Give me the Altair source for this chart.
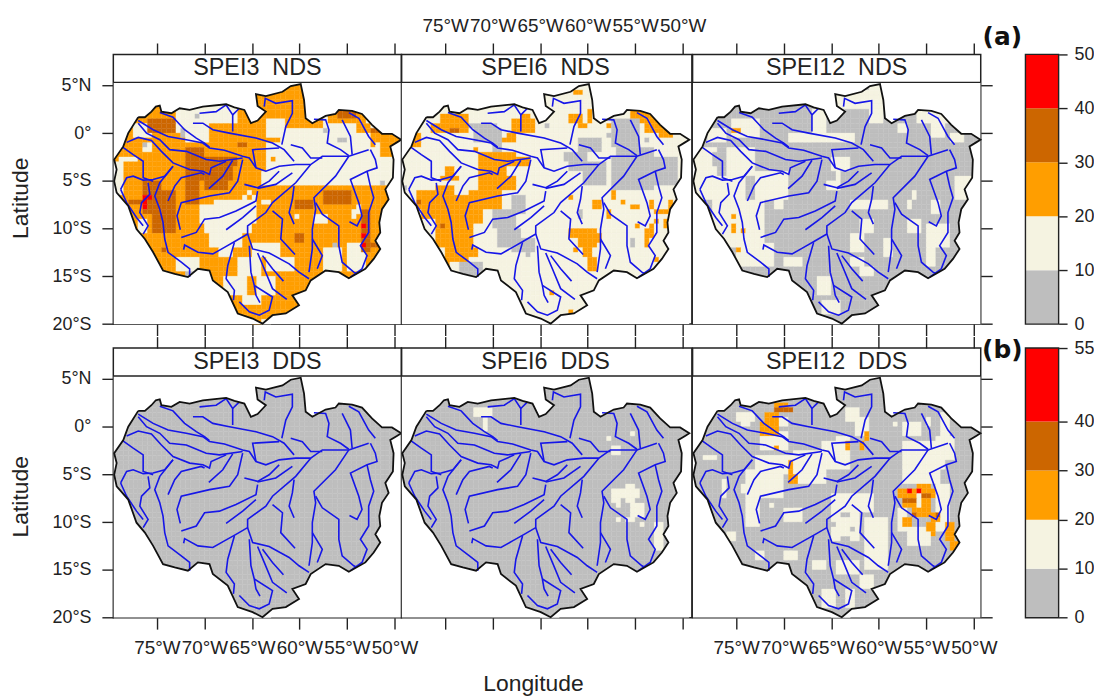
import altair as alt
import pandas as pd

GREY, CREAM, ORANGE, DARK, RED = 0, 1, 2, 3, 4
COLORS = ["#BEBEBE", "#F5F3E1", "#FF9E00", "#CC6600", "#FF0000"]
INK = "#222222"
FONT = "Liberation Sans"

OUTLINE = [(-76.97,1.66),(-76.27,1.66),(-75.58,2.25),(-75.12,2.77),(-74.70,2.88),(-74.53,2.25),(-73.48,2.08),(-72.61,2.60),
 (-71.56,2.43),(-70.17,2.77),(-67.72,3.02),(-66.85,2.70),(-65.80,2.43),(-65.11,1.04),(-64.41,1.32),(-63.54,2.25),(-64.41,2.84),
 (-64.58,4.09),(-63.54,3.88),(-61.79,4.33),(-60.92,4.92),(-59.87,5.13),(-59.52,3.47),(-59.35,1.56),(-58.65,1.04),(-57.25,1.80),
 (-56.21,2.01),(-55.86,2.43),(-54.46,2.32),(-53.42,2.01),(-52.37,0.87),(-51.32,-0.07),(-50.27,-0.07),(-49.30,-0.69),(-49.75,-0.97),
 (-50.45,-1.39),(-50.10,-2.77),(-50.17,-4.68),(-50.97,-5.89),(-50.62,-6.93),(-51.32,-7.97),(-51.60,-9.36),(-51.50,-10.40),
 (-52.02,-11.27),(-51.50,-12.13),(-52.19,-13.17),(-53.07,-14.21),(-54.81,-15.19),(-55.86,-14.56),(-57.25,-14.39),(-58.82,-15.43),
 (-59.35,-16.47),(-60.75,-16.99),(-60.05,-18.03),(-61.44,-18.89),(-62.84,-19.07),(-63.89,-19.95),(-64.93,-19.42),(-66.50,-18.89),
 (-67.55,-16.64),(-69.12,-15.43),(-69.47,-14.39),(-70.69,-14.21),(-71.74,-15.08),(-73.13,-14.73),(-74.36,-14.39),(-75.40,-12.48),
 (-76.27,-11.09),(-77.15,-10.05),(-78.02,-7.63),(-79.24,-6.24),(-79.50,-5.03),(-79.24,-3.81),(-79.50,-2.77),(-78.54,-1.39),(-78.02,0.0),(-76.97,1.66)]

RIVERS = [
 [(-74.70,2.15),(-73.31,1.66),(-72.09,.35),(-70.86,-.52),(-69.99,-1.04),(-69.47,-1.46)],
 [(-76.97,1.32),(-75.40,.35),(-73.83,-.35),(-71.91,-.69),(-70.17,-1.04),(-69.47,-1.56),(-67.90,-1.80),(-65.98,-2.43),(-65.28,-2.60),(-64.58,-3.64),(-63.54,-3.99),(-62.14,-3.47),(-60.40,-3.29),(-58.82,-3.29),(-57.60,-2.43),(-54.81,-2.43),(-52.72,-1.73)],
 [(-76.97,1.04),(-76.10,0),(-74.70,-.69),(-73.66,-1.73),(-71.91,-1.91),(-69.82,-2.77),(-68.42,-2.95),(-65.98,-2.60)],
 [(-78.19,-.97),(-76.97,-.45),(-75.58,-.76),(-74.53,-1.91),(-73.31,-3.12),(-71.56,-3.81),(-70.17,-3.99),(-69.47,-4.33),(-69.30,-3.64),(-67.72,-2.95)],
 [(-78.61,-1.46),(-77.50,-2.25),(-76.45,-2.95),(-76.45,-4.68),(-75.40,-5.03)],
 [(-78.82,-5.89),(-78.19,-4.68),(-77.50,-4.51),(-76.45,-4.92),(-75.40,-4.85),(-74.18,-4.51),(-73.31,-3.47)],
 [(-78.82,-5.89),(-78.19,-7.28),(-77.15,-8.84),(-76.45,-9.71)],
 [(-75.93,-5.20),(-75.75,-6.41),(-76.62,-7.28),(-76.80,-8.32),(-75.93,-9.71),(-76.45,-10.57)],
 [(-73.31,-3.47),(-74.70,-5.20),(-75.23,-6.59),(-74.70,-7.97),(-74.36,-9.36),(-74.18,-11.09),(-73.83,-12.48),(-72.44,-13.52),(-71.56,-14.21),(-71.56,-15.08)],
 [(-73.83,-7.11),(-73.13,-5.55),(-72.44,-4.68),(-70.34,-4.16),(-69.99,-4.33)],
 [(-72.54,-10.12),(-72.89,-8.67),(-72.44,-7.28),(-69.47,-6.59),(-67.37,-6.24),(-66.50,-5.03),(-65.98,-2.77)],
 [(-69.54,-5.82),(-68.07,-4.51),(-67.03,-2.84)],
 [(-65.80,-5.37),(-64.41,-5.72),(-63.19,-5.03),(-62.14,-3.99)],
 [(-64.41,-5.79),(-62.49,-5.37),(-60.75,-4.16)],
 [(-58.82,-3.29),(-60.40,-5.20),(-62.84,-7.28),(-63.54,-8.32),(-65.46,-9.71),(-65.46,-10.57),(-66.68,-11.27),(-67.90,-11.96),(-69.12,-12.65),(-70.69,-12.48),(-72.09,-11.72),(-72.19,-12.2)],
 [(-72.44,-10.92),(-70.86,-10.40),(-69.99,-9.01),(-68.42,-8.84),(-66.68,-8.15),(-64.58,-7.11),(-64.41,-6.07)],
 [(-67.72,-10.12),(-65.98,-8.84),(-64.58,-7.63)],
 [(-63.71,2.77),(-63.60,3.64),(-62.49,3.12),(-60.75,3.40),(-60.75,2.08),(-61.44,.69),(-61.86,-1.21)],
 [(-71.21,1.04),(-70.17,1.04),(-69.12,.35),(-67.37,0),(-64.58,-.52),(-62.84,-1.04),(-61.62,-1.73),(-60.57,-2.95)],
 [(-70.52,2.08),(-68.77,2.25),(-67.72,2.95),(-67.03,1.91),(-67.03,.17)],
 [(-67.03,1.91),(-66.33,2.60)],
 [(-62.14,-1.56),(-64.93,-1.73),(-64.58,-3.64)],
 [(-60.92,-1.21),(-59.70,-1.56),(-58.82,-2.60),(-57.60,-2.60)],
 [(-58.48,1.46),(-57.25,1.39),(-56.90,.35),(-57.08,-1.04),(-55.68,-1.73),(-54.81,-2.36)],
 [(-55.51,1.39),(-54.64,-.35),(-54.46,-2.25)],
 [(-54.81,2.15),(-53.76,1.56),(-52.72,-.35),(-52.02,-1.21)],
 [(-52.54,-1.73),(-52.02,-2.77),(-51.84,-3.64),(-52.89,-3.99),(-54.64,-4.85),(-53.76,-7.28),(-53.42,-8.67),(-53.94,-9.71),(-54.74,-9.29)],
 [(-52.89,-3.99),(-52.54,-5.55),(-52.19,-6.76),(-52.72,-8.32),(-52.72,-10.40),(-53.59,-11.79),(-52.89,-12.83),(-53.42,-14.21),(-54.64,-15.08)],
 [(-54.81,-2.43),(-56.21,-4.51),(-58.48,-6.76),(-58.30,-7.97),(-58.65,-10.05),(-58.65,-12.13),(-59.0,-14.56)],
 [(-58.30,-7.28),(-57.60,-8.49),(-55.86,-9.71),(-55.86,-11.79),(-55.51,-13.52),(-54.29,-14.56),(-53.94,-14.73)],
 [(-58.65,-11.09),(-57.60,-12.83),(-58.13,-14.21)],
 [(-60.57,-5.55),(-60.75,-6.93),(-61.09,-8.32),(-60.57,-9.53)],
 [(-62.84,-8.15),(-61.79,-9.01),(-61.97,-11.09),(-60.47,-12.72)],
 [(-65.46,-10.57),(-64.93,-12.13),(-63.19,-12.55),(-61.09,-13.69),(-60.05,-14.56),(-59.0,-15.25)],
 [(-66.85,-11.44),(-67.55,-13.87),(-67.72,-15.25),(-66.85,-16.47),(-66.95,-17.5)],
 [(-65.28,-11.79),(-65.11,-14.56),(-64.76,-15.95),(-64.58,-16.99),(-64.16,-17.75)],
 [(-64.41,-12.55),(-63.71,-14.21),(-62.84,-16.29),(-61.34,-17.40)],
 [(-63.89,-12.83),(-62.84,-14.21),(-61.69,-15.50)],
 [(-66.33,-17.68),(-65.28,-18.72),(-64.23,-19.07),(-63.19,-18.55),(-62.84,-17.16),(-64.76,-15.95)],
]

# (west, east, north, south, class): regions, later entries win
P1 = [
 (-73,-66.5,3,1,1),(-72,-69.5,1,-1,1),(-73,-72,1,0,1),(-77.5,-76,1,-.5,1),(-76.5,-75.5,.5,-.5,1),(-76.5,-75.5,-1,-2,1),(-76.5,-76,-1,-1.5,0),
 (-79,-77,-2.5,-3,1),(-79.5,-78.5,-3,-6.5,1),(-63.5,-61.5,1.5,-.5,1),(-62,-57.5,.5,-5.5,1),(-57.5,-52,2,-5.5,1),(-52,-49.5,-2.5,-5.5,1),
 (-52,-51.5,-1,-2.5,1),(-63.5,-62,-1,-5.5,1),(-64,-63.5,-4,-5.5,1),(-63,-62.5,-2.5,-3,2),
 (-57,-53,2.5,1,2),(-56,-54,2.5,1.5,3),(-54,-52.5,1,0,2),(-52.5,-52,.5,-1.5,2),(-52.5,-51.5,.5,0,3),
 (-57.5,-57,.5,0,0),(-56,-55,-.5,-1,0),(-51.5,-51,-5,-5.5,0),
 (-69,-64.5,-7,-9.5,1),(-70.5,-65,-7.5,-9.5,1),(-70,-65,-9.5,-10.5,1),(-69.5,-66,-10.5,-12,1),(-68.5,-67,-12,-13,1),
 (-65.5,-65,-6,-6.5,1),(-66,-65.5,-6.5,-7,1),(-65,-64.5,-6.5,-7,1),(-64,-63,-7,-7.5,1),
 (-65,-62,-11.5,-13,1),(-66.5,-64,-13,-15,1),(-63.5,-60.5,-13,-14.5,1),(-68,-65.5,-15,-17,1),(-64.5,-62.5,-15,-17,1),(-66,-64,-17,-18,1),(-64,-63,-19.5,-20,1),
 (-58.5,-57,-8.5,-9.5,1),(-57.5,-55.5,-12,-14.5,1),(-55,-53,-11.5,-14.5,1),(-54,-53.5,-7.5,-8.5,1),(-54.5,-54,-8,-9,1),(-60.5,-60,-8.5,-9,1),(-57.5,-57,-9,-9.5,1),
 (-56.5,-56,-11.5,-12,0),(-73,-70.5,-13,-14.5,1),(-72,-71,-14.5,-15,0),(-71,-70.5,2,1.5,0),(-72.5,-72,.5,-.5,0),(-77,-76,-9,-10.5,1),
 (-74.5,-74,-12,-12.5,3),(-76,-73,1.5,0,3),(-72,-66.5,-2.5,-3.5,3),(-72,-70,-1.5,-2.5,3),(-72,-67,-3.5,-5,3),(-72,-70.5,-5,-7.5,3),(-70,-67.5,-5,-6,3),(-66.5,-65.5,-1,-1.5,3),
 (-76.5,-74.5,-5,-8.5,3),(-75.5,-73.5,-8.5,-10.5,3),(-74.5,-73,-6,-10.5,3),(-78,-76.5,-7,-7.5,3),
 (-60.5,-58.5,-7,-8,3),(-57.5,-54.5,-6,-7.5,3),(-60.5,-59.5,-10.5,-11.5,3),(-53.5,-52.5,-8,-12.5,3),(-53.5,-51.5,-11.5,-12,3),
 (-76.5,-76,-6.5,-8,4),(-76,-75.5,-6.5,-7,4),(-53.5,-53,-9.5,-10,4),(-53.5,-53,-10.5,-11,4),(-53.5,-53,-11.5,-12,4),
]
P2 = [
 (-75.5,-72.5,2,0,2),(-76.5,-75.5,1,0,2),(-74.5,-73.5,.5,0,3),(-78.5,-77.5,0,-1.5,2),(-71.5,-67.5,-2,-3,2),(-71.5,-68.5,-3,-4.5,2),(-68.5,-66,-2.5,-3.5,2),
 (-71.5,-67.5,-4.5,-6,2),(-72.5,-69,-6,-8,2),(-72.5,-71,-8,-9.5,2),(-72,-71.5,-1.5,-2,2),(-69,-68.5,-.5,-1,2),(-68.5,-67.5,0,-1,2),(-68,-65.5,1.5,0,2),(-67,-66,2,1,2),
 (-75,-74,-3.5,-4.5,2),(-75.5,-73.5,-4.5,-5,2),(-78,-76,-6,-8,2),(-77.5,-75.5,-8,-9,2),(-76,-74,-5.5,-12,2),(-74.5,-72,-6.5,-10.5,2),(-74,-71,-8,-9.5,2),(-74,-72,-10.5,-12,2),
 (-75,-72.5,-12,-13.5,2),(-73,-71.5,-12,-13,2),(-75.5,-74.5,-13,-14,2),(-75.5,-75,-9.5,-10,3),(-78,-77.5,-7,-7.5,3),
 (-62,-60.5,2,1,2),(-60,-59.5,2.5,1,2),(-61,-60,1,.5,2),(-58,-57.5,1,.5,2),(-61.5,-60.5,4.5,4,2),
 (-55.5,-54,2.5,1,2),(-54.5,-53,2.5,1.5,2),(-54,-52,1.5,0,2),(-52.5,-51,.5,-.5,2),
 (-59.5,-58.5,-7,-8,2),(-57.5,-57,-6,-7,2),(-62,-61.5,-6.5,-7,2),(-58,-57.5,-8,-9,2),(-56.5,-56,-7,-7.5,2),(-55.5,-54.5,-7.5,-8,2),(-55,-54.5,-9.5,-10,2),(-53.5,-53,-7,-8,2),
 (-53,-51,-8,-8.5,2),(-51.5,-51,-7,-8,2),(-52,-51,-9,-10,2),(-53,-52.5,-9,-9.5,2),(-54,-53.5,-10,-12,2),(-53.5,-53,-9.5,-11,2),(-53,-52.5,-13,-13.5,2),
 (-61,-59,-10,-12,2),(-60.5,-59.5,-12,-13,2),(-60,-59,-13,-14.5,2),(-62,-61,-10,-11,2),(-59,-58.5,-10.5,-11.5,2),(-61.5,-61,-12,-12.5,2),(-64,-63.5,-16.5,-17,2),(-62,-61.5,-18.5,-19,2),
 (-72,-69.5,1,-1,0),(-70,-69,.5,-2,0),(-72.5,-71.5,1,.5,0),(-62.5,-60,-2,-3,0),(-61,-58.5,-.5,-2,0),(-60.5,-58,-3,-5.5,0),(-62,-60,-3,-4,0),
 (-57.5,-54.5,1.5,-1.5,0),(-57.5,-53,-2.5,-6,0),(-53,-50.5,-2.5,-5.5,0),(-57,-53,-1.5,-2.5,0),(-54,-53.5,-.5,-1,0),(-64.5,-64,1,.5,0),(-58,-57.5,0,-.5,0),
 (-70,-67.5,-8,-10,0),(-68,-66.5,-6.5,-8.5,0),(-69.5,-67,-10,-12,0),(-68,-65.5,-11,-12.5,0),(-66.5,-66,-12,-13,0),(-61,-60.5,-8,-9,0),(-55.5,-55,-11,-12,0),(-73.5,-71,-13.5,-15,0),(-79.5,-79,-5.5,-6,0),
]
P3 = [
 (-78,-76,.5,-1,1),(-79.5,-77,-1.5,-7,1),(-76,-73,-1.5,-4.5,1),(-77.5,-74,-4.5,-12,1),(-74,-72,-7,-11.5,1),(-75,-71,-11.5,-14,1),(-73,-69.5,-4,-7,1),
 (-77.5,-76.5,-2,-3.5,0),(-77.5,-77,-3,-3.5,0),(-75.5,-72.5,1.5,-.5,1),
 (-75.5,-74.5,.5,0,2),(-75.5,-75,-8.5,-9,2),(-75.5,-75,-9.5,-10.5,2),(-74.5,-74,-10,-10.5,2),(-75,-74.5,-12,-12.5,2),
 (-69.5,-62.5,0,-1,1),(-65,-63,-2.5,-4,1),(-67,-65.5,2.5,0,1),(-64.5,-60,4.5,2.5,1),(-61,-59.5,5,1,1),(-58,-57,1,0,1),
 (-56,-52.5,2.5,1,1),(-54.5,-53,1,-.5,1),(-52.5,-51,0,-1,1),(-52,-50,-4.5,-7,1),(-71,-70,-7,-8,1),(-65.5,-64,-5,-6,1),(-64.5,-64,-4,-5,1),
 (-63,-59,-7,-8,1),(-62,-60.5,-9,-10.5,1),(-63,-61.5,-10.5,-12.5,1),(-59.5,-58.5,-11,-13,1),(-57,-55.5,-9,-10.5,1),(-55,-52.5,-9.5,-12,1),(-54.5,-53.5,-7,-8.5,1),
 (-55,-54,-10.5,-14,1),(-56.5,-56,-6,-7,1),(-57,-56.5,-7,-8,1),(-66.5,-65,-15,-17,1),(-66,-64,-17.5,-19,1),(-62,-60.5,-14,-15,1),(-63,-61.5,-13,-14,1),(-70,-68,-13,-14,1),
]
P4 = []
P5 = [
 (-72,-70,2,1,1),(-71,-70.5,1,-.5,1),(-55.5,-55,-.5,-1,1),(-58,-57.5,-1,-1.5,1),(-57.5,-56.5,-2,-3,1),
 (-57.5,-54.5,-6.5,-8,1),(-56,-55,-6,-6.5,1),(-57,-56,-8,-8.5,1),(-55.5,-54,-8,-9.5,1),(-55,-54.5,-7.5,-8,0),(-56.5,-56,-7.5,-8.5,0),
 (-57,-56.5,-9.5,-10,1),(-56,-55,-9.5,-10,1),(-54.5,-54,-10,-10.5,1),(-53,-52,-10,-13,1),
]
P6 = [
 (-57.5,-53.5,-1.5,-6,1),(-54,-52,-1,-3.5,1),(-54,-53,-3.5,-4.5,1),(-57.5,-55.5,.5,-1,1),(-55,-54.5,1,0,1),(-53.5,-52.5,1.5,-1,1),
 (-54,-52.5,-6,-11,1),(-61.5,-59,-9.5,-15,1),(-63,-60.5,-7,-9,1),(-65,-63,-7,-8,1),(-65,-62,-8,-12,1),(-58,-57,-8.5,-11,1),(-57,-54.5,-10.5,-12.5,1),
 (-74,-70,-4.5,-7.5,1),(-73,-68,-3,-5,1),(-69,-65.5,-2.5,-5,1),(-66,-63,-1.5,-4.5,1),(-69.5,-65.5,-5,-6,1),(-70,-68,-8.5,-10,1),(-71.5,-71,-8,-8.5,1),
 (-74,-72.5,-7,-10.5,1),(-76,-75,-11,-12,1),(-75,-73,1.5,.5,1),(-74.5,-73.5,1,0,1),(-72.5,-69.5,-.5,-2.5,1),(-70.5,-69.5,1,0,1),(-78.5,-77,-3,-3.5,1),(-76.5,-76,-5.5,-7.5,1),(-74.5,-73.5,-6,-7,1),
 (-63.5,-62,2,.5,1),(-62.5,-61,1,-1,1),(-64.5,-63,-1,-2.5,1),(-58.5,-58,.5,0,1),(-70,-68.5,-13,-14,1),(-67,-65.5,-14,-15,1),(-73,-72,-13,-14,1),(-64.5,-62,-14,-15.5,1),(-62,-60.5,-15.5,-17,1),(-66,-64.5,-17,-19,1),(-63.5,-62.5,-17,-19,1),
 (-64,-63,-9,-9.5,0),(-65,-64.5,-10,-10.5,0),(-63,-62.5,-10.5,-11,0),(-64,-63,-11.5,-12,0),
 (-72,-70.5,1.5,.5,2),(-72.5,-70.5,.5,-1,2),(-71,-69,2,1.5,3),(-71,-69.5,2.5,2,2),(-71,-70.5,-2,-2.5,2),(-69.5,-69,-3.5,-5,2),(-69.5,-68.5,-5,-6,2),
 (-63.5,-63,-1.5,-2.5,2),(-62,-61.5,-1.5,-2.5,2),(-61.5,-61,-.5,-1.5,2),
 (-58,-54,-6.5,-7.5,2),(-56,-54.5,-6,-6.5,2),(-57.5,-54.5,-7.5,-8.5,2),(-56.5,-54.5,-8.5,-9,2),(-56,-54,-9,-9.5,2),
 (-57.5,-56,-7.5,-8,3),(-55.5,-54.5,-7,-7.5,3),(-56.5,-56,-9,-9.5,3),(-57,-56.5,-6.5,-7,4),(-56,-55.5,-7,-8.5,1),(-56,-55.5,-6.5,-7,4),
 (-57.5,-56.5,-9.5,-10.5,2),(-54.5,-54,-10,-11.5,2),(-55,-54,-10,-11,2),(-53,-52,-10,-12,2),(-52.5,-51.5,-12,-13,2),(-54.5,-53.5,-9,-10,2),(-54,-53.5,-9,-9.5,3),
]

PANELS = [("SPEI3\u00a0\u00a0NDS", ORANGE, P1), ("SPEI6\u00a0\u00a0NDS", CREAM, P2), ("SPEI12\u00a0\u00a0NDS", GREY, P3),
          ("SPEI3\u00a0\u00a0DDS", GREY, P4), ("SPEI6\u00a0\u00a0DDS", GREY, P5), ("SPEI12\u00a0\u00a0DDS", GREY, P6)]

LON_TICKS = [-75, -70, -65, -60, -55, -50]
LAT_TICKS = [5, 0, -5, -10, -15, -20]
LON_DOMAIN = [-79.59, -49.27]
LON_DOMAIN_MID = [-79.59, -49.03]
LAT_DOMAIN = [-20, 8.24]
STRIP_LAT = 5.31
W, W_MID, H = 290, 292.3, 271.4

BAR_A = [(0,10,GREY),(10,20,CREAM),(20,30,ORANGE),(30,40,DARK),(40,50,RED)]
BAR_B = [(0,10,GREY),(10,20,CREAM),(20,30,ORANGE),(30,40,DARK),(40,55,RED)]
TICKS_A = [0,10,20,30,40,50]
TICKS_B = [0,10,20,30,40,55]


def inside(px, py):
    hit = False
    for (x1, y1), (x2, y2) in zip(OUTLINE, OUTLINE[1:]):
        if (y1 > py) != (y2 > py) and px < x1 + (py - y1) / (y2 - y1) * (x2 - x1):
            hit = not hit
    return hit


def cells(base, patches):
    rows = []
    for i in range(52):
        north = 5.5 - 0.5 * i
        south = north - 0.5
        for j in range(60):
            west = -79.5 + 0.5 * j
            east = west + 0.5
            probes = [(west, north), (east, north), (west, south), (east, south), (west + .25, south + .25)]
            if not any(inside(a, b) for a, b in probes):
                continue
            c = base
            for w, e, n, s, k in patches:
                if w <= west and east <= e and s <= south and north <= n:
                    c = k
            rows.append({"w": west, "e": east, "n": min(north, 5.29), "s": max(south, -20), "c": COLORS[c]})
    return pd.DataFrame(rows)


corners = [(-79.55, 5.29), (-79.55, -19.98), (-49.3, -19.98), (-49.3, 5.29), (-79.55, 5.29)]
mask_pts = corners + OUTLINE + [corners[0]]
mask_df = pd.DataFrame([{"lon": a, "lat": b, "i": i} for i, (a, b) in enumerate(mask_pts)])
outline_df = pd.DataFrame([{"lon": a, "lat": b, "i": i} for i, (a, b) in enumerate(OUTLINE)])
river_df = pd.DataFrame([{"lon": a, "lat": b, "i": i, "r": r} for r, pts in enumerate(RIVERS) for i, (a, b) in enumerate(pts)])

YS = alt.Scale(domain=LAT_DOMAIN, nice=False, zero=False)
LON_LABEL = "abs(datum.value)+'°W'"
LAT_LABEL = "datum.value==0?'0°':abs(datum.value)+(datum.value>0?'°N':'°S')"


def x_axis(orient, labels):
    return alt.Axis(orient=orient, values=LON_TICKS, labels=labels, labelExpr=LON_LABEL, labelFont=FONT, labelFontSize=19,
                    labelColor=INK, labelPadding=10 if orient == "bottom" else 8, labelOverlap=False, labelFlush=False, labelBound=False, tickSize=11.5,
                    tickColor=INK, tickWidth=1.4, grid=False, domain=False, title=None)


def y_axis(orient):
    return alt.Axis(orient=orient, values=LAT_TICKS, labels=orient == "left", labelExpr=LAT_LABEL, labelFont=FONT, labelFontSize=18,
                    labelColor=INK, labelPadding=11, labelOverlap=False, labelFlush=False, labelBound=False, tickSize=11.5,
                    tickColor=INK, tickWidth=1.4, grid=False, domain=False, title=None)


def panel(idx):
    name, base, patches = PANELS[idx]
    col, row = idx % 3, idx // 3
    XS = alt.Scale(domain=LON_DOMAIN_MID if col == 1 else LON_DOMAIN, nice=False, zero=False)
    bottom = x_axis("bottom", row == 1 and col != 1)
    top = x_axis("top", row == 0 and col == 1)
    yax = y_axis("left") if col == 0 else (y_axis("right") if col == 2 else None)
    X = alt.X("lon:Q", scale=XS, axis=None)
    Y = alt.Y("lat:Q", scale=YS, axis=None)
    cell_layer = alt.Chart(cells(base, patches)).mark_rect(strokeWidth=0.35).encode(
        x=alt.X("w:Q", scale=XS, axis=None), x2="e:Q",
        y=alt.Y("n:Q", scale=YS, axis=None), y2="s:Q",
        color=alt.Color("c:N", scale=None), stroke=alt.Stroke("c:N", scale=None))
    mask = alt.Chart(mask_df).mark_line(fill="white", strokeWidth=0, interpolate="linear").encode(x=X, y=Y, order="i:Q")
    rivers = alt.Chart(river_df).mark_line(color="#1616E8", strokeWidth=1.6).encode(
        x=alt.X("lon:Q", scale=XS, axis=bottom), y=Y, detail="r:N", order="i:Q")
    outline = alt.Chart(outline_df).mark_line(color="#111111", strokeWidth=1.8).encode(
        x=alt.X("lon:Q", scale=XS, axis=top), y=alt.Y("lat:Q", scale=YS, axis=yax), order="i:Q")
    strip_rule = alt.Chart(pd.DataFrame({"lat": [STRIP_LAT]})).mark_rule(color=INK, strokeWidth=1.4).encode(y=Y)
    label = alt.Chart(pd.DataFrame({"lon": [-64.43], "lat": [6.77], "t": [name]})).mark_text(
        font=FONT, fontSize=23.5, color=INK, baseline="middle", align="center").encode(x=X, y=Y, text="t:N")
    layers = [cell_layer, mask, rivers, outline, strip_rule, label]
    if col == 0:
        lat_pos = -6.82 if row == 0 else -7.34
        layers.append(alt.Chart(pd.DataFrame({"lon": [-89.31], "lat": [lat_pos], "t": ["Latitude"]})).mark_text(
            font=FONT, fontSize=23, color=INK, baseline="middle", align="center", angle=270).encode(x=X, y=Y, text="t:N"))
    if row == 1 and col == 1:
        layers.append(alt.Chart(pd.DataFrame({"lon": [-65.7], "lat": [-27.0], "t": ["Longitude"]})).mark_text(
            font=FONT, fontSize=23, color=INK, baseline="middle", align="center").encode(x=X, y=Y, text="t:N"))
    return alt.layer(*layers).resolve_axis(x="independent", y="independent").properties(width=W_MID if col == 1 else W, height=H)


def colorbar(segs, ticks, tag, tag_val):
    top = ticks[-1]
    sdom = alt.Scale(domain=[0, top], nice=False, zero=False)
    xdom = alt.Scale(domain=[-1.347, 1], nice=False, zero=False)
    df = pd.DataFrame([{"a": 0, "b": 1, "lo": l, "hi": h, "c": COLORS[k]} for l, h, k in segs])
    bars = alt.Chart(df).mark_rect(strokeWidth=0).encode(
        x=alt.X("a:Q", scale=xdom, axis=None), x2="b:Q",
        y=alt.Y("lo:Q", scale=sdom, axis=alt.Axis(orient="right", values=ticks, labelFont=FONT, labelFontSize=18, labelColor=INK,
                labelPadding=7, tickSize=8.5, tickColor=INK, tickWidth=1.4, grid=False, domain=False, title=None,
                labelOverlap=False, labelFlush=False, labelBound=False, format="d")),
        y2="hi:Q", color=alt.Color("c:N", scale=None))
    frame = alt.Chart(pd.DataFrame({"a": [0], "b": [1], "lo": [0], "hi": [top]})).mark_rect(
        fill="transparent", stroke=INK, strokeWidth=1.4).encode(
        x=alt.X("a:Q", scale=xdom, axis=None), x2="b:Q", y=alt.Y("lo:Q", scale=sdom, axis=None), y2="hi:Q")
    text = alt.Chart(pd.DataFrame({"a": [-0.697], "v": [tag_val], "t": [tag]})).mark_text(
        font="DejaVu Sans", fontWeight="bold", fontSize=25, color="#111111", baseline="middle", align="center").encode(
        x=alt.X("a:Q", scale=xdom, axis=None), y=alt.Y("v:Q", scale=sdom, axis=None), text="t:N")
    return alt.layer(bars, frame, text).resolve_axis(y="independent").properties(width=78.4, height=H, view=alt.ViewConfig(stroke=None))


charts = [panel(0), panel(1), panel(2), colorbar(BAR_A, TICKS_A, "(a)", 53.2),
          panel(3), panel(4), panel(5), colorbar(BAR_B, TICKS_B, "(b)", 54.65)]

chart = alt.concat(*charts, columns=4, spacing={"row": 23.5, "column": 0}, bounds="flush").properties(
    padding={"left": 1, "top": 4.5, "right": 0, "bottom": 0}, background="white"
).configure_view(stroke=INK, strokeWidth=1.5)

chart.save("out.html", embed_options={"renderer": "svg", "actions": False})
